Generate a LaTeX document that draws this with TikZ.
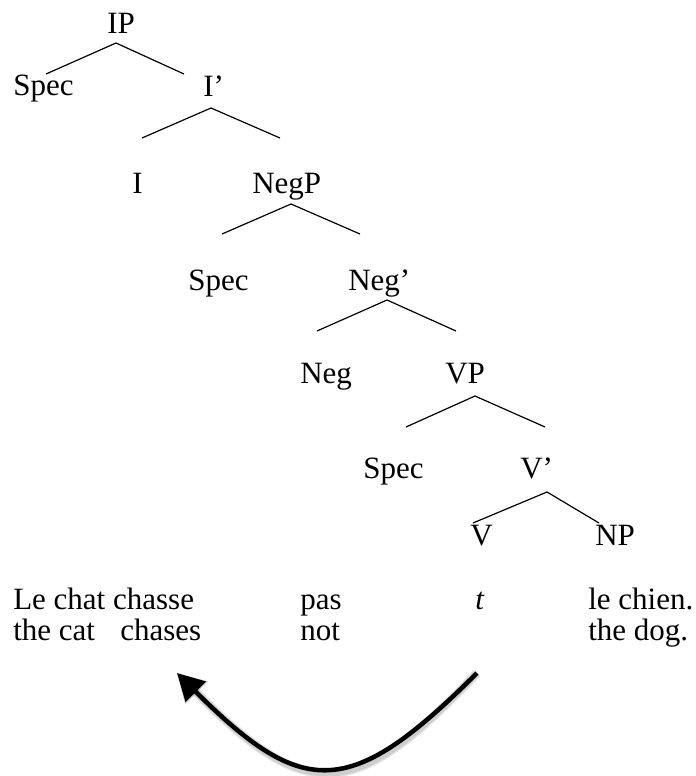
\documentclass[tikz,border=0pt]{standalone}
\usepackage{fontspec}
\setmainfont{Liberation Serif}
\usetikzlibrary{arrows.meta}
\begin{document}
\begin{tikzpicture}[x=0.75pt,y=-0.75pt,
  lbl/.style={anchor=base west, inner sep=0pt, font=\fontsize{23.25}{28}\selectfont},
  branch/.style={line width=0.9pt},
  mv/.style={line width=3.4pt, -{Triangle[length=20pt,width=21pt]}},
  mvshadow/.style={line width=#1, draw=black, opacity=0.10, -{Triangle[length=21pt,width=23pt]}}]
\useasboundingbox (0,0) rectangle (696,776);

% tree labels
\node[lbl] (IP)     at (107,33)  {IP};
\node[lbl] (Spec1)  at (13,95)   {Spec};
\node[lbl] (Ibar)   at (203,96)  {I’};
\node[lbl] (I)      at (132,193) {I};
\node[lbl] (NegP)   at (252,193) {NegP};
\node[lbl] (Spec2)  at (188,290) {Spec};
\node[lbl] (Negbar) at (348,290) {Neg’};
\node[lbl] (Neg)    at (300,383) {Neg};
\node[lbl] (VP)     at (445,383) {VP};
\node[lbl] (Spec3)  at (363,478) {Spec};
\node[lbl] (Vbar)   at (520,478) {V’};
\node[lbl] (V)      at (470,545) {V};
\node[lbl] (NP)     at (595,545) {NP};

% sentence rows
\node[lbl] (w1) at (13,609)  {Le chat chasse};
\node[lbl] (w2) at (300,609) {pas};
\node[lbl] (w3) at (475,609) {\itshape t};
\node[lbl] (w4) at (588,609) {le chien.};
\node[lbl] (g1) at (13,640)  {the cat};
\node[lbl] (g2) at (120,640) {chases};
\node[lbl] (g3) at (300,640) {not};
\node[lbl] (g4) at (588,640) {the dog.};

% branch end points
\coordinate (IP-apex)     at (116,43);
\coordinate (Spec1-top)   at (46,74);
\coordinate (Ibar-top)    at (184,74);
\coordinate (Ibar-apex)   at (211,108);
\coordinate (I-top)       at (142,138);
\coordinate (NegP-top)    at (280,138);
\coordinate (NegP-apex)   at (291,204);
\coordinate (Spec2-top)   at (222,234);
\coordinate (Negbar-top)  at (360,234);
\coordinate (Negbar-apex) at (387,300);
\coordinate (Neg-top)     at (317,331);
\coordinate (VP-top)      at (456,331);
\coordinate (VP-apex)     at (475,396);
\coordinate (Spec3-top)   at (406,427);
\coordinate (Vbar-top)    at (545,427);
\coordinate (Vbar-apex)   at (547,492);
\coordinate (V-top)       at (473,523);
\coordinate (NP-top)      at (599,523);

\draw[branch] (Spec1-top) -- (IP-apex) -- (Ibar-top);
\draw[branch] (I-top) -- (Ibar-apex) -- (NegP-top);
\draw[branch] (Spec2-top) -- (NegP-apex) -- (Negbar-top);
\draw[branch] (Neg-top) -- (Negbar-apex) -- (VP-top);
\draw[branch] (Spec3-top) -- (VP-apex) -- (Vbar-top);
\draw[branch] (V-top) -- (Vbar-apex) -- (NP-top);

% movement arrow
\coordinate (mv-start) at (477,673);
\coordinate (mv-end)   at (177,673);
\begin{scope}[shift={(3,4)}]
  \draw[mvshadow=7pt] (mv-start) .. controls (350.5,799.5) and (303.5,799.5) .. (mv-end);
  \draw[mvshadow=5pt] (mv-start) .. controls (350.5,799.5) and (303.5,799.5) .. (mv-end);
\end{scope}
\draw[mv] (mv-start) .. controls (350.5,799.5) and (303.5,799.5) .. (mv-end);
\end{tikzpicture}
\end{document}
